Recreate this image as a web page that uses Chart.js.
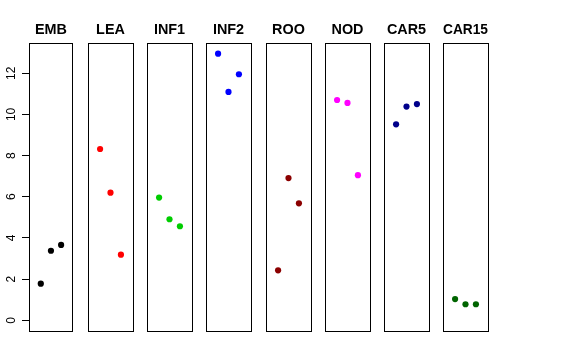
<!DOCTYPE html>
<html><head><meta charset="utf-8">
<script src="https://cdn.jsdelivr.net/npm/chart.js@4/dist/chart.umd.min.js"></script>
<style>
html,body{margin:0;padding:0;background:#fff;}
#wrap{position:relative;width:576px;height:360px;overflow:hidden;background:#fff}
#wrap canvas{position:absolute;top:0}
</style></head><body><div id="wrap"></div>
<script>
// ---- data ----
const categories = ['EMB','LEA','INF1','INF2','ROO','NOD','CAR5','CAR15'];
const replicate = [1,2,3];
const EMB   = [1.78, 3.38, 3.66];
const LEA   = [8.32, 6.20, 3.19];
const INF1  = [5.96, 4.91, 4.57];
const INF2  = [12.95, 11.09, 11.95];
const ROO   = [2.43, 6.91, 5.68];
const NOD   = [10.70, 10.56, 7.05];
const CAR5  = [9.52, 10.38, 10.50];
const CAR15 = [1.03, 0.78, 0.78];
const yTicks = [0, 2, 4, 6, 8, 10, 12];
const seriesValues = [EMB, LEA, INF1, INF2, ROO, NOD, CAR5, CAR15];
const colors = ['#000000','#FF0000','#00CD00','#0000FF','#8B0000','#FF00FF','#00008B','#006400'];

// ---- layout / scale limits (R-style 4% extension) ----
const xLo = 0, xHi = 4;
const xPad = 0.04 * (xHi - xLo);
const allVals = seriesValues.flat();
const yLo = 0, yHi = Math.max(...allVals);
const yPad = 0.04 * (yHi - yLo);

const panelLeft0 = 29, panelStep = 59.14, panelW = 45;
const canvasH = 340, areaBottom = 331;
const FONT = "'Liberation Sans', Arial, Helvetica, sans-serif";

function edgeAxis(pos, min, max) {
  return {
    type: 'linear', position: pos, min: min, max: max,
    grid: {display: false, drawTicks: false},
    ticks: {display: false},
    border: {display: true, color: '#000', width: 1},
    afterFit: (s) => { s.paddingTop = 0; s.paddingBottom = 0; s.paddingLeft = 0; s.paddingRight = 0; }
  };
}

const wrap = document.getElementById('wrap');
categories.forEach((cat, i) => {
  const left = Math.round(panelLeft0 + panelStep * i);
  const first = i === 0;
  const padL = first ? 0 : 8, padR = first ? 2 : 8;
  const cvLeft = first ? 0 : left - padL;
  const cvW = first ? left + panelW + padR : panelW + padL + padR;
  const cv = document.createElement('canvas');
  cv.width = cvW; cv.height = canvasH;
  cv.style.left = cvLeft + 'px';
  cv.style.width = cvW + 'px'; cv.style.height = canvasH + 'px';
  wrap.appendChild(cv);

  const yAxis = edgeAxis('left', yLo - yPad, yHi + yPad);
  if (first) {
    yAxis.grid = {display: true, drawOnChartArea: false, drawTicks: true, tickLength: 7, color: '#000', tickColor: '#000', lineWidth: 1};
    yAxis.ticks = {display: true, minRotation: 90, maxRotation: 90, crossAlign: 'center', padding: 4, color: '#000', font: {family: FONT, size: 12}};
    yAxis.afterBuildTicks = (s) => { s.ticks = yTicks.map(v => ({value: v})); };
    yAxis.afterFit = (s) => { s.width = left; s.paddingTop = 0; s.paddingBottom = 0; s.paddingLeft = 0; s.paddingRight = 0; };
  }

  new Chart(cv, {
    type: 'scatter',
    data: {
      datasets: [{
        data: seriesValues[i].map((v, k) => ({x: replicate[k], y: v})),
        backgroundColor: colors[i],
        borderColor: colors[i],
        borderWidth: 0,
        pointRadius: 3.1,
        pointHoverRadius: 3.1
      }]
    },
    options: {
      responsive: false, animation: false, events: [],
      layout: {padding: {left: padL, right: padR, top: 0, bottom: canvasH - areaBottom}},
      plugins: {
        legend: {display: false},
        tooltip: {enabled: false},
        title: {display: true, text: cat, color: '#000', fullSize: !first,
          font: {family: FONT, size: 14.4, weight: 'bold', lineHeight: 1.2},
          padding: {top: 21, bottom: 4.72}}
      },
      scales: {
        x: edgeAxis('bottom', xLo - xPad, xHi + xPad),
        x2: edgeAxis('top', xLo - xPad, xHi + xPad),
        y: yAxis,
        y2: edgeAxis('right', yLo - yPad, yHi + yPad)
      }
    }
  });
});
</script>
</body></html>
